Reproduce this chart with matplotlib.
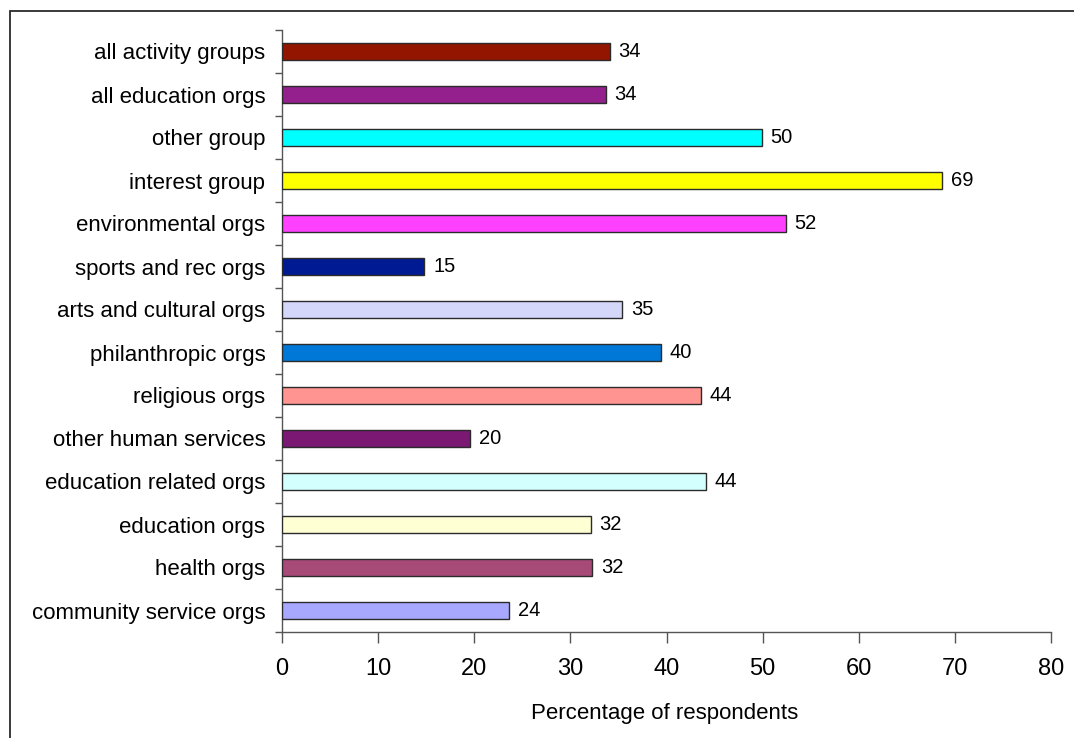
import matplotlib
matplotlib.use("Agg")
import matplotlib.pyplot as plt
from matplotlib.patches import Rectangle
from matplotlib.ticker import FixedLocator

plt.rcParams['font.family'] = ['Liberation Sans', 'DejaVu Sans']

# Data (bottom to top)
categories = [
    "community service orgs", "health orgs", "education orgs",
    "education related orgs", "other human services", "religious orgs",
    "philanthropic orgs", "arts and cultural orgs", "sports and rec orgs",
    "environmental orgs", "interest group", "other group",
    "all education orgs", "all activity groups",
]
values = [23.6, 32.3, 32.1, 44.1, 19.6, 43.6, 39.4, 35.4, 14.8, 52.4, 68.7, 49.9, 33.7, 34.1]
value_labels = ["24", "32", "32", "44", "20", "44", "40", "35", "15", "52", "69", "50", "34", "34"]
colors = [
    "#A8A8FF", "#A84A78", "#FFFFD4", "#D4FFFF", "#7A1873", "#FF9490",
    "#0078D7", "#D4D6FA", "#001A93", "#FF40FF", "#FFFF00", "#00FFFF",
    "#93208C", "#931500",
]
x_ticks = [0, 10, 20, 30, 40, 50, 60, 70, 80]
x_label = "Percentage of respondents"

W, H = 1074, 738
fig = plt.figure(figsize=(W / 100, H / 100), dpi=100)
fig.patch.set_facecolor("white")

# outer chart border (extends beyond right/bottom edges)
fig.patches.append(Rectangle((9.5 / W, -0.1), 1.2, (H - 11) / H + 0.1,
                             transform=fig.transFigure, fill=False,
                             edgecolor="#2a2a2a", linewidth=1.3))

ax = fig.add_axes([282 / W, 1 - 632 / H, (1051 - 282) / W, (632 - 30) / H])
y = list(range(len(categories)))
ax.barh(y, values, height=0.4, color=colors, edgecolor="#2b2b2b", linewidth=1.0, zorder=3)

for yi, v, lab in zip(y, values, value_labels):
    ax.annotate(lab, (v, yi), xytext=(6.3, 0), textcoords="offset points",
                va="center", ha="left", fontsize=14.5, color="black")

ax.set_xlim(0, 80)
ax.set_ylim(-0.5, len(categories) - 0.5)
ax.set_xticks(x_ticks)
ax.set_xticklabels([str(t) for t in x_ticks], fontsize=17)
ax.set_yticks(y)
ax.set_yticklabels(categories, fontsize=16)
ax.yaxis.set_minor_locator(FixedLocator([i - 0.5 for i in range(len(categories) + 1)]))
ax.tick_params(axis="y", which="major", length=0, pad=12)
ax.tick_params(axis="y", which="minor", length=5, width=1, color="#555555", direction="out")
ax.tick_params(axis="x", which="major", length=8, width=1, color="#555555", direction="out", pad=11)

for s in ["top", "right"]:
    ax.spines[s].set_visible(False)
for s in ["left", "bottom"]:
    ax.spines[s].set_color("#555555")
    ax.spines[s].set_linewidth(1.0)

fig.text(665 / W, 1 - 719 / H, x_label, ha="center", va="baseline", fontsize=16)

fig.savefig("out.png", dpi=100)
